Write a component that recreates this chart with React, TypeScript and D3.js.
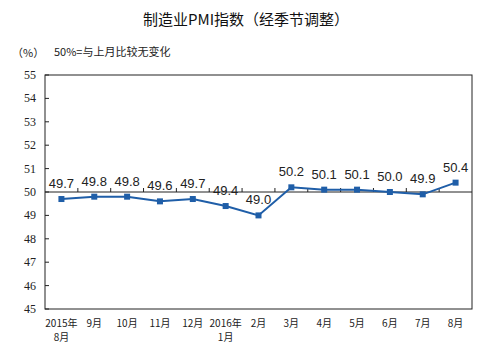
import React from "react";
import * as d3 from "d3";

const categories = ["2015年\n8月", "9月", "10月", "11月", "12月", "2016年\n1月", "2月", "3月", "4月", "5月", "6月", "7月", "8月"];
const values = [49.7, 49.8, 49.8, 49.6, 49.7, 49.4, 49.0, 50.2, 50.1, 50.1, 50.0, 49.9, 50.4];
const yTicks = [45, 46, 47, 48, 49, 50, 51, 52, 53, 54, 55];
const title = "制造业PMI指数（经季节调整）";
const unitLabel = "（%）";
const note = "50%=与上月比较无变化";

export default function App() {
  const W = 493, H = 360;
  const left = 45, right = 472, top = 75, bottom = 309;
  const x = d3.scaleBand<number>().domain(d3.range(categories.length)).range([left, right]).padding(0);
  const y = d3.scaleLinear().domain([45, 55]).range([bottom, top]);
  const cx = (i: number) => (x(i) as number) + x.bandwidth() / 2;
  const line = d3.line<number>().x((_, i) => cx(i)).y((d) => y(d));
  const color = "#1f5ea8";
  const serif = "'Liberation Serif', 'Times New Roman', serif";
  const cjk = "'Noto Sans CJK SC', sans-serif";
  return (
    <svg width={W} height={H} style={{ position: "absolute", left: 0, top: 0, background: "#fff" }}>
      <rect x={0} y={0} width={W} height={H} fill="#fff" />
      <text x={246} y={25} textAnchor="middle" fontSize={15} fontFamily={cjk} fill="#111">{title}</text>
      <text x={12} y={57} fontSize={11} fontFamily={cjk} fill="#222">{unitLabel}</text>
      <text x={54} y={56} fontSize={11} fontFamily={cjk} fill="#222">{note}</text>
      <rect x={left} y={top} width={right - left} height={bottom - top} fill="none" stroke="#222" strokeWidth={1} />
      {yTicks.map((t) => (
        <g key={t}>
          <line x1={left} x2={left + 4} y1={y(t)} y2={y(t)} stroke="#222" />
          <text x={36} y={y(t) + 4} textAnchor="end" fontSize={12} fontFamily={serif} fill="#222">{t}</text>
        </g>
      ))}
      <line x1={left} x2={right} y1={y(50)} y2={y(50)} stroke="#222" strokeWidth={1} />
      {categories.slice(1).map((_, i) => (
        <line key={i} x1={x(i + 1) as number} x2={x(i + 1) as number} y1={y(50)} y2={y(50) - 4} stroke="#222" />
      ))}
      <path d={line(values) || ""} fill="none" stroke={color} strokeWidth={2} />
      {values.map((v, i) => (
        <rect key={i} x={cx(i) - 3} y={y(v) - 3} width={6} height={6} fill={color} />
      ))}
      {values.map((v, i) => (
        <text key={"l" + i} x={cx(i)} y={y(v) - 11} textAnchor="middle" fontSize={13} fontFamily="'Liberation Sans', Arial, sans-serif" fill="#222">{v.toFixed(1)}</text>
      ))}
      {categories.map((c, i) =>
        c.split("\n").map((s, j) => (
          <text key={"c" + i + "-" + j} x={cx(i)} y={327 + j * 14} textAnchor="middle" fontSize={10} fontFamily={cjk} fill="#222">{s}</text>
        ))
      )}
    </svg>
  );
}
